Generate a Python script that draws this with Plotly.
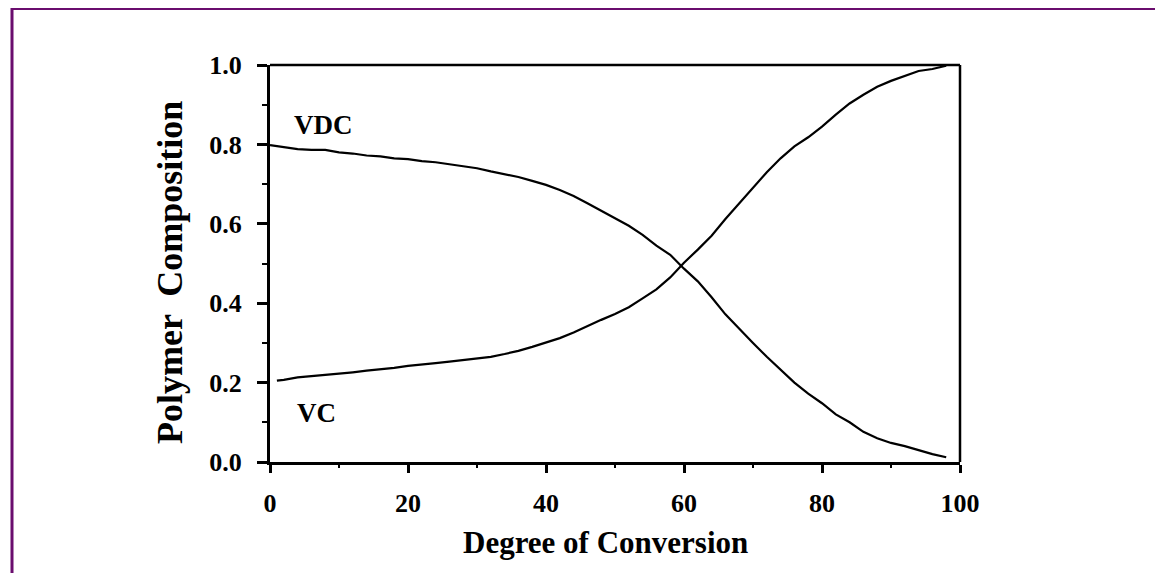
import plotly.graph_objects as go

# Data
x_vdc = [0, 2, 4, 6, 8, 10, 12, 14, 16, 18, 20, 22, 24, 26, 28, 30, 32, 34, 36, 38,
         40, 42, 44, 46, 48, 50, 52, 54, 56, 58, 60, 62, 64, 66, 68, 70, 72, 74, 76, 78,
         80, 82, 84, 86, 88, 90, 92, 94, 96, 98]
vdc = [0.798, 0.793, 0.788, 0.786, 0.786, 0.780, 0.777, 0.772, 0.770, 0.765,
       0.763, 0.758, 0.755, 0.750, 0.745, 0.740, 0.732, 0.725, 0.718, 0.708,
       0.698, 0.685, 0.670, 0.652, 0.633, 0.614, 0.595, 0.572, 0.545, 0.522,
       0.487, 0.455, 0.415, 0.372, 0.335, 0.300, 0.265, 0.232, 0.200, 0.172,
       0.148, 0.120, 0.100, 0.076, 0.060, 0.048, 0.040, 0.030, 0.020, 0.012]

x_vc = [1, 2, 4, 6, 8, 10, 12, 14, 16, 18, 20, 22, 24, 26, 28, 30, 32, 34, 36, 38,
        40, 42, 44, 46, 48, 50, 52, 54, 56, 58, 60, 62, 64, 66, 68, 70, 72, 74, 76, 78,
        80, 82, 84, 86, 88, 90, 92, 94, 96, 98]
vc = [0.205, 0.207, 0.213, 0.216, 0.220, 0.223, 0.226, 0.230, 0.233, 0.237,
      0.242, 0.245, 0.249, 0.253, 0.257, 0.260, 0.265, 0.272, 0.280, 0.290,
      0.302, 0.312, 0.326, 0.343, 0.358, 0.373, 0.390, 0.412, 0.435, 0.465,
      0.502, 0.535, 0.570, 0.612, 0.652, 0.690, 0.730, 0.765, 0.795, 0.818,
      0.845, 0.875, 0.903, 0.925, 0.945, 0.960, 0.972, 0.985, 0.990, 0.998]

x_ticks = [0, 20, 40, 60, 80, 100]
x_tick_labels = ["0", "20", "40", "60", "80", "100"]
y_ticks = [0.0, 0.2, 0.4, 0.6, 0.8, 1.0]
y_tick_labels = ["0.0", "0.2", "0.4", "0.6", "0.8", "1.0"]

FONT = "Liberation Serif"

# plot box in figure pixels (page has an 8px body margin)
plot_l, plot_r, plot_t, plot_b = 262, 952, 57, 454
FIG_W, FIG_H = 1147, 565


def px_to_paper_x(px):
    return (px - plot_l) / (plot_r - plot_l)


def px_to_paper_y(py):
    return (plot_b - py) / (plot_b - plot_t)


fig = go.Figure()
fig.add_trace(go.Scatter(x=x_vdc, y=vdc, mode="lines", name="VDC",
                         line=dict(color="black", width=2.2)))
fig.add_trace(go.Scatter(x=x_vc, y=vc, mode="lines", name="VC",
                         line=dict(color="black", width=2.2)))

axis_common = dict(
    showgrid=False, zeroline=False, showline=True, linecolor="black", linewidth=3,
    ticks="outside", tickcolor="black", tickwidth=2.5,
    tickfont=dict(family=FONT, size=26, color="black", weight="bold"),
)

fig.update_xaxes(range=[0, 100], tickvals=x_ticks, ticktext=x_tick_labels,
                 ticklen=8, ticklabelstandoff=8,
                 minor=dict(dtick=10, tick0=0, ticks="outside", ticklen=3,
                            tickwidth=2, tickcolor="black"),
                 **axis_common)
fig.update_yaxes(range=[0, 1.0], tickvals=y_ticks, ticktext=y_tick_labels,
                 ticklen=10, ticklabelstandoff=10,
                 minor=dict(dtick=0.1, tick0=0, ticks="outside", ticklen=5,
                            tickwidth=2, tickcolor="black"),
                 **axis_common)

fig.update_layout(
    width=FIG_W, height=FIG_H,
    margin=dict(l=plot_l, r=FIG_W - plot_r, t=plot_t, b=FIG_H - plot_b),
    paper_bgcolor="white", plot_bgcolor="white",
    showlegend=False,
    shapes=[
        dict(type="line", xref="paper", yref="paper", x0=0, x1=1, y0=1, y1=1,
             line=dict(color="black", width=2.5)),
        dict(type="line", xref="paper", yref="paper", x0=1, x1=1, y0=0, y1=1,
             line=dict(color="black", width=2.5)),
        dict(type="rect", xref="paper", yref="paper",
             x0=px_to_paper_x(4), x1=px_to_paper_x(1180),
             y0=px_to_paper_y(600), y1=px_to_paper_y(0.5),
             line=dict(color="#6a0d6e", width=3)),
    ],
    annotations=[
        dict(text="VDC", x=7.7, y=0.849, xref="x", yref="y", showarrow=False,
             font=dict(family=FONT, size=27, color="black", weight="bold")),
        dict(text="VC", x=6.8, y=0.123, xref="x", yref="y", showarrow=False,
             font=dict(family=FONT, size=27, color="black", weight="bold")),
        dict(text="Degree of Conversion", x=px_to_paper_x(597.5),
             y=px_to_paper_y(534), xref="paper", yref="paper",
             showarrow=False, xanchor="center", yanchor="middle",
             font=dict(family=FONT, size=31, color="black", weight="bold")),
        dict(text="Polymer  Composition", textangle=-90, x=px_to_paper_x(162),
             y=px_to_paper_y(265), xref="paper", yref="paper", showarrow=False,
             xanchor="center", yanchor="middle",
             font=dict(family=FONT, size=36, color="black", weight="bold")),
    ],
)

fig.write_html("out.html")
